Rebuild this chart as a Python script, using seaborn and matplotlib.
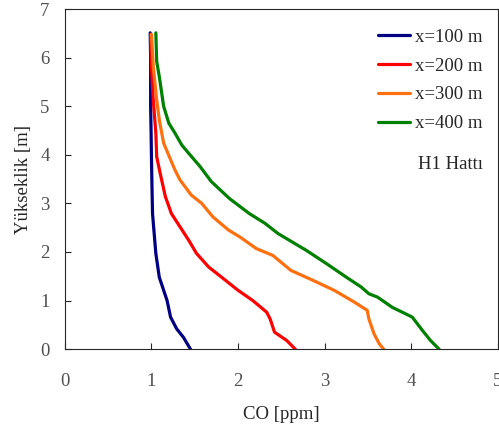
import pandas as pd
import matplotlib
matplotlib.use("Agg")
import matplotlib.pyplot as plt
import seaborn as sns

# Veri: yükseklik (m) ve CO (ppm), her mesafe için
y_100 = [6.51, 6.0, 5.0, 4.5, 3.9, 3.4, 2.79, 2.4, 1.97, 1.48, 1.0, 0.66, 0.42, 0.24, 0.0]
co_100 = [0.985, 0.99, 0.99, 0.995, 1.0, 1.005, 1.012, 1.03, 1.05, 1.09, 1.18, 1.22, 1.29, 1.37, 1.45]

y_200 = [6.48, 5.8, 5.13, 4.45, 3.96, 3.62, 3.14, 2.79, 2.24, 1.97, 1.69, 1.48, 1.21, 1.0, 0.76, 0.62, 0.35, 0.18, 0.0]
co_200 = [0.99, 1.0, 1.02, 1.05, 1.06, 1.1, 1.16, 1.23, 1.43, 1.52, 1.66, 1.81, 2.0, 2.17, 2.33, 2.37, 2.42, 2.56, 2.66]

y_300 = [6.48, 5.82, 5.13, 4.72, 4.24, 3.69, 3.48, 3.17, 3.0, 2.72, 2.45, 2.31, 2.07, 1.93, 1.62, 1.42, 1.21, 0.97, 0.8, 0.62, 0.31, 0.11, 0.0]
co_300 = [1.0, 1.02, 1.06, 1.09, 1.14, 1.27, 1.33, 1.46, 1.58, 1.71, 1.89, 2.02, 2.21, 2.40, 2.61, 2.86, 3.11, 3.34, 3.49, 3.51, 3.57, 3.63, 3.68]

y_400 = [6.51, 5.92, 5.61, 5.0, 4.65, 4.45, 4.2, 4.03, 3.76, 3.45, 3.1, 2.79, 2.59, 2.38, 2.03, 1.76, 1.48, 1.28, 1.14, 1.07, 0.86, 0.73, 0.66, 0.38, 0.18, 0.0]
co_400 = [1.05, 1.06, 1.09, 1.14, 1.2, 1.27, 1.35, 1.43, 1.56, 1.69, 1.90, 2.13, 2.31, 2.46, 2.79, 3.02, 3.25, 3.42, 3.51, 3.61, 3.78, 3.93, 4.01, 4.13, 4.22, 4.32]

etiketler = ["x=100 m", "x=200 m", "x=300 m", "x=400 m"]
renkler = ["#000080", "#FF0000", "#FF7010", "#008000"]

frames = []
for lab, co, y in zip(etiketler, [co_100, co_200, co_300, co_400], [y_100, y_200, y_300, y_400]):
    frames.append(pd.DataFrame({"CO": co, "Yukseklik": y, "Mesafe": lab}))
df = pd.concat(frames, ignore_index=True)

sns.set_style("ticks")
plt.rcParams["font.family"] = ["Liberation Serif", "DejaVu Serif"]

fig = plt.figure(figsize=(4.99, 4.30), dpi=100)
ax = fig.add_axes([0.130, 0.188, 0.868, 0.791])

sns.lineplot(data=df, x="CO", y="Yukseklik", hue="Mesafe", palette=renkler,
             sort=False, estimator=None, linewidth=2.3, ax=ax)

ax.set_xlim(0, 5)
ax.set_ylim(0, 7)
ax.set_xticks(range(0, 6))
ax.set_yticks(range(0, 8))
ax.tick_params(direction="in", labelsize=13.5, length=4, width=0.8,
               labelcolor="#505050")
ax.tick_params(axis="x", pad=17)
ax.tick_params(axis="y", pad=11)
ax.set_xlabel("CO [ppm]", fontsize=13.5, labelpad=12)
ax.set_ylabel("Yükseklik [m]", fontsize=13.5, labelpad=6)
for s in ax.spines.values():
    s.set_linewidth(0.8)

leg = ax.legend(loc="upper right", bbox_to_anchor=(0.965, 0.942), frameon=False,
                fontsize=13.5, handlelength=1.7, handletextpad=0.3,
                labelspacing=0.62, borderaxespad=0, borderpad=0)
ax.text(0.965, 0.543, "H1 Hattı", transform=ax.transAxes, ha="right", va="center", fontsize=13.5)

fig.savefig("out.png", dpi=100)
